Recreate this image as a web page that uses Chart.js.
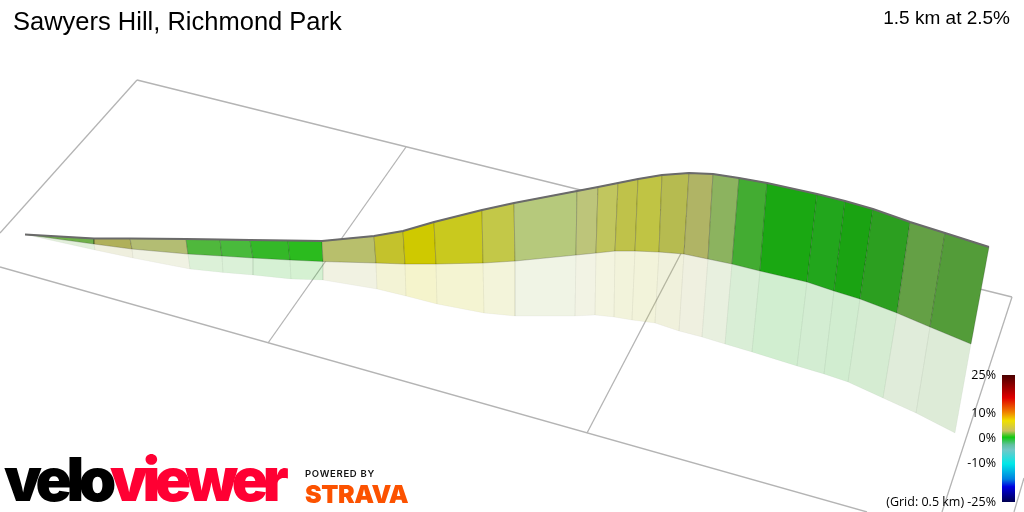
<!DOCTYPE html>
<html>
<head>
<meta charset="utf-8">
<title>Sawyers Hill, Richmond Park</title>
<script src="https://cdn.jsdelivr.net/npm/chart.js@4/dist/chart.umd.min.js"></script>
<style>
  html, body { margin: 0; padding: 0; background: #fff; }
  #wrap { position: relative; width: 1024px; height: 512px; overflow: hidden; }
  #wrap canvas { position: absolute; }
  #wrap div { position: absolute; white-space: nowrap; }
  #title { left: 13px; top: 6px; font: 25.5px/30px "Liberation Sans", sans-serif; color: #000; }
  #summary { right: 14px; top: 6px; font: 19px/24px "Liberation Sans", sans-serif; color: #000; }
  #velo { left: 4px; top: 443px; font: 900 60px/72px Inter, sans-serif; letter-spacing: -5.4px; color: #000; }
  #velo span { color: #ff0033; }
  #powered { left: 305px; top: 467px; font: 600 9.5px/13px Inter, sans-serif; letter-spacing: 0.7px; color: #111; }
  #strava { left: 305px; top: 479px; font: 900 25px/30px Inter, sans-serif; letter-spacing: -0.4px; color: #fc5200; }
</style>
</head>
<body>
<div id="wrap">
  <canvas id="ribbon" width="1024" height="512" style="left:0;top:0"></canvas>
  <canvas id="scale" width="154" height="152" style="left:870px;top:360px"></canvas>
  <div id="title">Sawyers Hill, Richmond Park</div>
  <div id="summary">1.5 km at 2.5%</div>
  <div id="velo">velo<span>viewer</span></div>
  <div id="powered">POWERED BY</div>
  <div id="strava">STRAVA</div>
</div>
<script>
// Projected ribbon at each segment boundary
const topX = [25, 94, 130, 186, 220, 250, 288, 322, 374, 403, 434, 482, 514, 577, 598, 618, 638, 662, 689, 713, 739, 767, 817, 845, 873, 910, 945, 989];
const topY = [234.5, 238.5, 238.5, 239, 239.5, 240, 240.5, 241, 236, 231, 222, 210, 203, 191, 187, 183, 179, 175, 173, 174, 178, 183, 194, 201, 209, 222, 233, 247];
const midX = [25, 94, 132, 188, 222, 253, 290, 323, 376, 405, 436, 483, 515, 576, 596, 615, 635, 659, 684, 708, 732, 760, 807, 834, 860, 897, 930, 971];
const midY = [234.5, 244, 249, 254, 256, 258, 260, 261.5, 263, 264, 264, 263, 261, 255, 253, 251, 251, 252, 254, 259, 264, 271, 282, 291, 299, 313, 327, 344];
const lowX = [25, 95, 133, 190, 223, 253, 291, 323, 377, 406, 437, 484, 515, 575, 595, 614, 632, 655, 679, 702, 725, 752, 797, 824, 848, 883, 916, 955];
const lowY = [234.5, 250, 258, 269, 272.5, 275, 279, 280, 289, 296, 304, 313, 316, 316, 315, 317, 320, 323, 331, 337, 344, 352, 366, 374, 382, 398, 413, 433];
const segmentColors = ['#6fb04a', '#b0b05a', '#b3bd73', '#4fb83c', '#49ba3c', '#34b828', '#2bbb1e', '#b8bf6c', '#c4c22c',
  '#cfc900', '#c9c91e', '#c3c848', '#b6c97c', '#bdc57a', '#c1c65e', '#bfc24a', '#c0c444', '#b6bb50', '#b0b465', '#8cb35f',
  '#43ac32', '#1aa812', '#22a61c', '#1aa312', '#2c9f20', '#64a045', '#539c39'];

// Ground grid lines
const gridFromX = [137, 137, 406, 587, 0, 1012, 1024];
const gridFromY = [80, 80, 147, 433, 267, 297, 478];
const gridToX = [1012, 0, 268, 700, 867, 942, 1014];
const gridToY = [297, 233, 343, 217, 512, 512, 512];

// Gradient scale
const gradeTicks = [25, 10, 0, -10, -25];
const gradeStops = [25, 16, 10.4, 7, 3, 0.5, -2.5, -4.5, -10, -16, -19, -25];
const gradeColors = ['#4a0000', '#e00000', '#f08000', '#f0e000', '#c8c060', '#10c810', '#60c0a0', '#70c8c8', '#00e8e8', '#0080e0', '#0000e0', '#000050'];

function hexAlpha(hex, a) {
  const n = parseInt(hex.slice(1), 16);
  return `rgba(${n >> 16}, ${(n >> 8) & 255}, ${n & 255}, ${a})`;
}

function pairs(xs, ys) {
  return xs.map((x, i) => ({ x, y: ys[i] }));
}

// Datasets are listed in draw order, the order field keeps it that way
const datasets = [];
function addSet(ds) {
  ds.order = 1000 - datasets.length;
  ds.showLine = true;
  ds.pointRadius = 0;
  ds.tension = 0;
  datasets.push(ds);
}

gridFromX.forEach((x, i) => {
  addSet({
    data: [{ x, y: gridFromY[i] }, { x: gridToX[i], y: gridToY[i] }],
    borderColor: '#b4b4b4',
    borderWidth: 1.3,
    fill: false
  });
});

const topLine = pairs(topX, topY);
const midLine = pairs(midX, midY);
const lowLine = pairs(lowX, lowY);

segmentColors.forEach((color, i) => {
  addSet({
    data: [midLine[i], lowLine[i], lowLine[i + 1], midLine[i + 1], midLine[i]],
    borderColor: 'rgba(0, 0, 0, 0.03)',
    borderWidth: 1,
    backgroundColor: hexAlpha(color, 0.2),
    fill: 'shape'
  });
});

segmentColors.forEach((color, i) => {
  addSet({
    data: [topLine[i], midLine[i], midLine[i + 1], topLine[i + 1], topLine[i]],
    borderColor: 'rgba(0, 0, 0, 0.18)',
    borderWidth: 1,
    backgroundColor: color,
    fill: 'shape'
  });
});

addSet({ data: topLine, borderColor: '#6a6a6a', borderWidth: 2, fill: false });

new Chart(document.getElementById('ribbon'), {
  type: 'scatter',
  data: { datasets },
  options: {
    responsive: false,
    animation: false,
    plugins: { legend: { display: false }, tooltip: { enabled: false } },
    scales: {
      x: { type: 'linear', min: 0, max: 1024, display: false },
      y: { type: 'linear', min: 0, max: 512, reverse: true, display: false }
    }
  }
});

function gradeFill(context) {
  const chart = context.chart;
  if (!chart.chartArea) return 'transparent';
  const y = chart.scales.y;
  const grad = chart.ctx.createLinearGradient(0, y.getPixelForValue(25), 0, y.getPixelForValue(-25));
  gradeStops.forEach((v, i) => grad.addColorStop((25 - v) / 50, gradeColors[i]));
  return grad;
}

new Chart(document.getElementById('scale'), {
  type: 'bar',
  data: {
    labels: ['grade'],
    datasets: [{
      data: [[-25, 25]],
      backgroundColor: gradeFill,
      barPercentage: 1,
      categoryPercentage: 1
    }]
  },
  options: {
    responsive: false,
    animation: false,
    layout: { padding: { top: 15, bottom: 10, right: 9, left: 0 } },
    plugins: { legend: { display: false }, tooltip: { enabled: false } },
    scales: {
      x: { display: false },
      y: {
        min: -25,
        max: 25,
        afterBuildTicks: scale => { scale.ticks = gradeTicks.map(value => ({ value })); },
        afterFit: scale => { scale.width = 132; scale.paddingTop = 0; scale.paddingBottom = 0; },
        grid: { display: false, drawTicks: false },
        border: { display: false },
        ticks: {
          padding: 6,
          autoSkip: false,
          color: '#000',
          font: { family: '"Open Sans"', size: 12.5 },
          callback: v => (v === -25 ? '(Grid: 0.5 km) -25%' : v + '%')
        }
      }
    }
  }
});
</script>
</body>
</html>
